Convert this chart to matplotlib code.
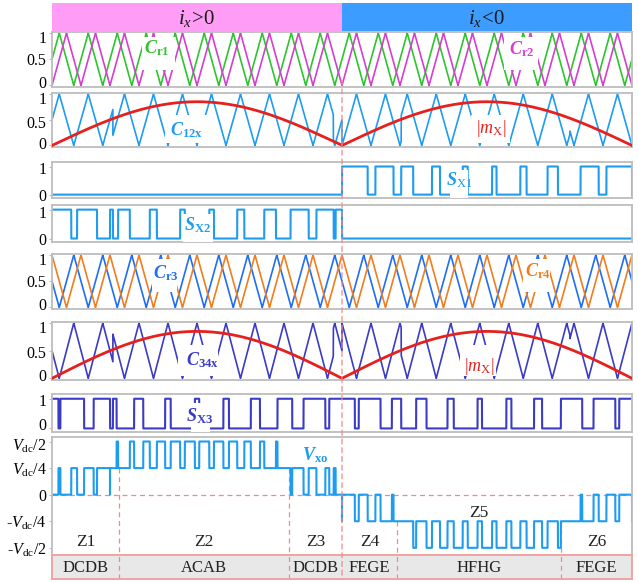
import numpy as np
import matplotlib
matplotlib.use("Agg")
import matplotlib.pyplot as plt
from matplotlib.patches import Rectangle, ConnectionPatch
from matplotlib.transforms import ScaledTranslation

plt.rcParams['font.family'] = ['Liberation Serif', 'DejaVu Serif']
plt.rcParams['mathtext.fontset'] = 'custom'
plt.rcParams['mathtext.rm'] = 'Liberation Serif'
plt.rcParams['mathtext.it'] = 'Liberation Serif:italic'
plt.rcParams['mathtext.bf'] = 'Liberation Serif:bold'
plt.rcParams['mathtext.bfit'] = 'Liberation Serif:italic:bold'

# ---------------- modulation settings ----------------
N_CARRIERS = 20            # carrier periods per fundamental period
M_PEAK = 0.85              # peak of |m_x|
carrier_names = ['Cr1', 'Cr2', 'Cr3', 'Cr4']
carrier_valleys = [-0.25, 0.0, 0.25, 0.5]   # valley position (fraction of carrier period)

# carrier selection for C12x / C34x (start time of each segment, carrier used)
c12_switch_t = [0.0, 0.105, 0.485, 0.5, 0.602, 0.893]
c12_switch_to = ['Cr1', 'Cr2', 'Cr1', 'Cr2', 'Cr1', 'Cr2']
c34_switch_t = [0.0, 0.105, 0.485, 0.5, 0.602, 0.893]
c34_switch_to = ['Cr3', 'Cr4', 'Cr3', 'Cr4', 'Cr3', 'Cr4']

# operating zones
zone_edges = [0.0, 0.1155, 0.4086, 0.5, 0.595, 0.877, 1.0]
zone_names = ['Z1', 'Z2', 'Z3', 'Z4', 'Z5', 'Z6']
zone_states = ['DCDB', 'ACAB', 'DCDB', 'FEGE', 'HFHG', 'FEGE']

v_levels = [2, 1, 0, -1, -2]
v_level_labels = [r'$V_{\mathrm{dc}}/2$', r'$V_{\mathrm{dc}}/4$', '0',
                  r'-$V_{\mathrm{dc}}/4$', r'-$V_{\mathrm{dc}}/2$']
half_labels = [r'$i_x\!>\!\mathit{0}$', r'$i_x\!<\!\mathit{0}$']

# ---------------- colours ----------------
C_GREEN = '#2fc42f'
C_MAG = '#d43fd0'
C_LBLUE = '#1e9cf0'
C_RED = '#e6201c'
C_BLUE = '#1f6ef5'
C_ORANGE = '#f07d1e'
C_INDIGO = '#3b3bc6'
C_FRAME = '#bdbdbd'
C_DASH = '#f08a8a'

# ---------------- signals ----------------
t = np.linspace(0.0, 1.0, 40001)


def triangle(tt, valley):
    u = np.mod(tt * N_CARRIERS - valley, 1.0)
    return 1.0 - np.abs(2.0 * u - 1.0)


carriers = {n: triangle(t, v) for n, v in zip(carrier_names, carrier_valleys)}
m_abs = M_PEAK * np.abs(np.sin(2 * np.pi * t))


def composite(switch_t, switch_to):
    idx = np.searchsorted(np.array(switch_t), t, side='right') - 1
    out = np.empty_like(t)
    for k, name in enumerate(switch_to):
        mask = idx == k
        out[mask] = carriers[name][mask]
    return out


c12x = composite(c12_switch_t, c12_switch_to)
c34x = composite(c34_switch_t, c34_switch_to)
first = t < 0.5
s_x2 = np.where(first, c12x > m_abs, False).astype(float)
s_x1 = np.where(~first, c12x > m_abs, False).astype(float)
s_x3 = (c34x > m_abs).astype(float)
v_xo = np.where(first, (1 - s_x2) + (1 - s_x3), -((1 - s_x1) + (1 - s_x3)))

# ---------------- figure ----------------
W, H, DPI = 638, 582, 100
fig = plt.figure(figsize=(W / DPI, H / DPI), dpi=DPI)
L, R = 52, 632


def px_axes(top, bottom):
    return fig.add_axes([L / W, 1 - bottom / H, (R - L) / W, (bottom - top) / H])


def style(ax, ylim, yticks, ylabels, nudge=None, size=11.5):
    ax.set_xlim(0, 1)
    ax.set_ylim(*ylim)
    ax.set_xticks([])
    ax.set_yticks(yticks)
    ax.set_yticklabels(ylabels)
    ax.tick_params(axis='y', labelsize=size, length=2, width=0.8,
                   color=C_FRAME, pad=2)
    for sp in ax.spines.values():
        sp.set_color(C_FRAME)
        sp.set_linewidth(1.3)
    # keep the outer tick labels inside the frame height
    if nudge is None:
        nudge = [3] + [0] * (len(yticks) - 2) + [-4]
    for lab, dy in zip(ax.get_yticklabels(), nudge):
        lab.set_transform(lab.get_transform() +
                          ScaledTranslation(0, dy / DPI, fig.dpi_scale_trans))


def blank(ax, t0, t1, y0, y1):
    ax.add_patch(Rectangle((t0, y0), t1 - t0, y1 - y0, facecolor='white',
                           edgecolor='none', zorder=3))


def label(ax, x, y, s, color, size=13):
    ax.text(x, y, s, color=color, fontsize=size, ha='center', va='baseline',
            zorder=5)


CAR_LIM = (-0.03, 1.02)
SW_LIM = (-0.12, 1.16)

# header
axh = px_axes(3, 31)
axh.set_xlim(0, 1)
axh.set_ylim(0, 1)
axh.axis('off')
axh.add_patch(Rectangle((0, 0), 0.5, 1, facecolor='#ff9cf5', edgecolor='none'))
axh.add_patch(Rectangle((0.5, 0), 0.5, 1, facecolor='#3d9cff', edgecolor='none'))
axh.text(0.25, 0.45, half_labels[0], ha='center', va='center', fontsize=15, color='#1a1a1a')
axh.text(0.75, 0.45, half_labels[1], ha='center', va='center', fontsize=15, color='#1a1a1a')

# panel 1: Cr1 / Cr2
ax1 = px_axes(32, 87)
style(ax1, CAR_LIM, [0, 0.5, 1], ['0', '0.5', '1'])
ax1.plot(t, carriers['Cr1'], color=C_GREEN, lw=1.2, zorder=2)
ax1.plot(t, carriers['Cr2'], color=C_MAG, lw=1.2, zorder=2)
blank(ax1, 0.155, 0.212, 0.3, 0.93)
blank(ax1, 0.78, 0.838, 0.3, 0.93)
label(ax1, 0.181, 0.62, r'$\mathbfit{C}_{\mathbf{r1}}$', C_GREEN)
label(ax1, 0.81, 0.6, r'$\mathbfit{C}_{\mathbf{r2}}$', C_MAG)

# panel 2: C12x and |m_x|
ax2 = px_axes(93, 147)
style(ax2, CAR_LIM, [0, 0.5, 1], ['0', '0.5', '1'], nudge=[2, -2, -4])
ax2.plot(t, c12x, color=C_LBLUE, lw=1.2, zorder=2)
blank(ax2, 0.195, 0.267, 0.04, 0.6)
blank(ax2, 0.722, 0.79, 0.04, 0.6)
ax2.plot(t, m_abs, color=C_RED, lw=2.0, zorder=4)
label(ax2, 0.232, 0.2, r'$\mathbfit{C}_{\mathbf{12x}}$', C_LBLUE)
label(ax2, 0.758, 0.24, r'$|m_{\mathrm{X}}|$', C_RED)

# panel 3: S_X1
ax3 = px_axes(162, 198)
style(ax3, SW_LIM, [0, 1], ['0', '1'], nudge=[0, -2])
ax3.plot(t, s_x1, color=C_LBLUE, lw=1.5, zorder=2)
blank(ax3, 0.686, 0.718, -0.12, 0.86)
label(ax3, 0.703, 0.34, r'$\mathbfit{S}_{\mathrm{X1}}$', C_LBLUE)

# panel 4: S_X2
ax4 = px_axes(205, 242)
style(ax4, SW_LIM, [0, 1], ['0', '1'], nudge=[0, -2])
ax4.plot(t, s_x2, color=C_LBLUE, lw=1.5, zorder=2)
blank(ax4, 0.225, 0.278, -0.12, 0.86)
label(ax4, 0.251, 0.3, r'$\mathbfit{S}_{\mathbf{X2}}$', C_LBLUE)

# panel 5: Cr3 / Cr4
ax5 = px_axes(254, 309)
style(ax5, CAR_LIM, [0, 0.5, 1], ['0', '0.5', '1'])
ax5.plot(t, carriers['Cr3'], color=C_BLUE, lw=1.2, zorder=2)
ax5.plot(t, carriers['Cr4'], color=C_ORANGE, lw=1.2, zorder=2)
blank(ax5, 0.172, 0.215, 0.3, 0.93)
blank(ax5, 0.812, 0.858, 0.3, 0.93)
label(ax5, 0.196, 0.56, r'$\mathbfit{C}_{\mathbf{r3}}$', C_BLUE)
label(ax5, 0.838, 0.59, r'$\mathbfit{C}_{\mathbf{r4}}$', C_ORANGE)

# panel 6: C34x and |m_x|
ax6 = px_axes(322, 380)
style(ax6, CAR_LIM, [0, 0.5, 1], ['0', '0.5', '1'], nudge=[3, -1, -4])
ax6.plot(t, c34x, color=C_INDIGO, lw=1.2, zorder=2)
blank(ax6, 0.218, 0.287, 0.04, 0.6)
blank(ax6, 0.703, 0.766, 0.04, 0.6)
ax6.plot(t, m_abs, color=C_RED, lw=2.0, zorder=4)
label(ax6, 0.259, 0.23, r'$\mathbfit{C}_{\mathbf{34x}}$', C_INDIGO)
label(ax6, 0.737, 0.13, r'$|m_{\mathrm{X}}|$', C_RED)

# panel 7: S_X3
ax7 = px_axes(394, 432)
style(ax7, SW_LIM, [0, 1], ['0', '1'], nudge=[4, -1])
ax7.plot(t, s_x3, color=C_INDIGO, lw=1.5, zorder=2)
blank(ax7, 0.24, 0.273, -0.12, 0.86)
label(ax7, 0.255, 0.25, r'$\mathbfit{S}_{\mathbf{X3}}$', C_INDIGO)

# panel 8: output voltage V_xo
ax8 = px_axes(437, 555)
style(ax8, (-2.27, 2.17), v_levels, v_level_labels,
      nudge=[-3, 0, 0, 0, 0], size=11.5)
ax8.axhline(0, color=C_DASH, lw=0.9, ls=(0, (4, 3)), zorder=1)
ax8.plot(t, v_xo, color=C_LBLUE, lw=1.5, zorder=2)
for e in zone_edges[1:-1]:
    if e == 0.5:
        continue
    lvl = 1 if e < 0.5 else -1
    ax8.plot([e, e], [lvl, -2.27], color=C_DASH, lw=0.9, ls=(0, (4, 3)), zorder=1)
centers = [(a + b) / 2 for a, b in zip(zone_edges[:-1], zone_edges[1:])]
for name, c in zip(zone_names, centers):
    y = -0.7 if name == 'Z5' else -1.77
    ax8.text(c, y, name, ha='center', va='center', fontsize=12.5, color='#222222')
label(ax8, 0.454, 1.3, r'$\mathbfit{V}_{\mathbf{xo}}$', C_LBLUE)

# zone state strip
axz = px_axes(555, 579)
axz.set_xlim(0, 1)
axz.set_ylim(0, 1)
axz.set_xticks([])
axz.set_yticks([])
axz.set_facecolor('#e8e8e8')
for sp in axz.spines.values():
    sp.set_color('#f2a3a3')
    sp.set_linewidth(1.4)
for e in zone_edges[1:-1]:
    if e != 0.5:
        axz.axvline(e, color=C_DASH, lw=0.9, ls=(0, (4, 3)))
for s, c in zip(zone_states, centers):
    axz.text(c, 0.45, s, ha='center', va='center', fontsize=12, color='#222222')

# boundary between the two current polarities
con = ConnectionPatch(xyA=(0.5, 0.1), coordsA=ax1.transData,
                      xyB=(0.5, 0.0), coordsB=axz.transData,
                      color=C_DASH, lw=0.9, ls=(0, (4, 3)), zorder=10)
fig.add_artist(con)

fig.savefig('out.png', dpi=DPI)
